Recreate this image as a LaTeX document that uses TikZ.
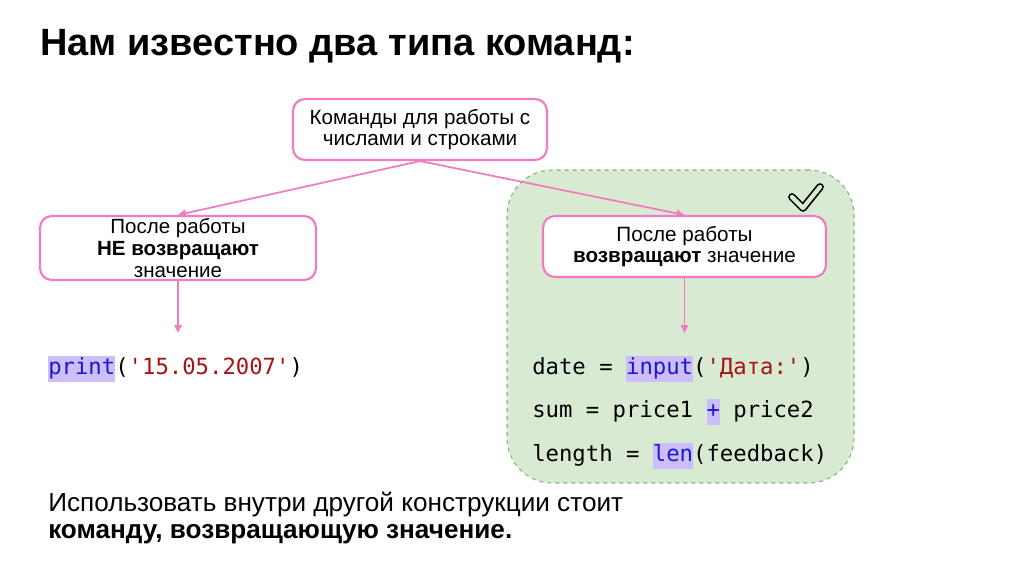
\documentclass[tikz,border=0pt]{standalone}
\usepackage{fontspec}
\setmainfont{Liberation Sans}
\newfontfamily\codefont{DejaVu Sans Mono}
\usetikzlibrary{arrows.meta}
\definecolor{pinkc}{HTML}{F07BC0}
\definecolor{greenfill}{HTML}{D9EAD3}
\definecolor{greenline}{HTML}{78B878}
\definecolor{hl}{HTML}{CDBDFB}
\definecolor{kw}{HTML}{1A1ACC}
\definecolor{str}{HTML}{A31515}
\tikzset{
  pbox/.style={draw=pinkc, line width=1.6pt, rounded corners=9pt, fill=white, align=center,
    font=\fontsize{15.5pt}{16pt}\selectfont, inner sep=0pt},
  parr/.style={draw=pinkc, line width=1.3pt, -{Triangle[length=6pt,width=5.5pt]}},
  code/.style={anchor=west, inner sep=0pt, font=\codefont\fontsize{16.7pt}{20pt}\selectfont},
}
\newcommand{\hlbox}[2]{\colorbox{hl}{\strut\textcolor{kw}{#2}}}
\begin{document}
\begin{tikzpicture}[x=0.75pt,y=-0.75pt]
\useasboundingbox (0,0) rectangle (1024,574);
\fill[white] (0,0) rectangle (1024,574);
% title
\node[anchor=west, inner sep=0pt, font=\bfseries\fontsize{28.5pt}{30pt}\selectfont] (title) at (40,46) {Нам известно два типа команд:};
% green region
\node[draw=greenline, dashed, line width=0.8pt, fill=greenfill, rounded corners=34pt,
  minimum width=347*0.75pt, minimum height=313*0.75pt, inner sep=0pt] (region) at (680.5,326.5) {};
% checkmark
\draw[line width=1.3pt, double=greenfill, double distance=3.2pt, line cap=round, line join=round]
  (792,197) coordinate (ck1) -- (803,208) coordinate (ck2) -- (820,187) coordinate (ck3);
% boxes
\node[pbox, minimum width=254*0.75pt, minimum height=61*0.75pt] (top) at (420,129.5) {Команды для работы с\\числами и строками};
\node[pbox, minimum width=276*0.75pt, minimum height=64*0.75pt, font=\fontsize{15.4pt}{16.5pt}\selectfont] (left) at (178,248) {После работы\\\textbf{НЕ возвращают}\\значение};
\node[pbox, minimum width=283*0.75pt, minimum height=61*0.75pt] (right) at (684.5,246.5) {После работы\\\textbf{возвращают} значение};
% arrows
\draw[parr] (top.south) -- (left.north);
\draw[parr] (top.south) -- (right.north);
\coordinate (lend) at (178,333);
\coordinate (rend) at (684.5,333);
\draw[parr] (left.south) -- (lend);
\draw[parr] (right.south) -- (rend);
% code
\setlength{\fboxsep}{0pt}
\node[code] (c0) at (48,369) {\hlbox{}{print}(\textcolor{str}{'15.05.2007'})};
\node[code] (c1) at (532,369) {date = \hlbox{}{input}(\textcolor{str}{'Дата:'})};
\node[code] (c2) at (532,412) {sum = price1 \hlbox{}{+} price2};
\node[code] (c3) at (532,456) {length = \hlbox{}{len}(feedback)};
% bottom text
\node[anchor=west, inner sep=0pt, align=left, font=\fontsize{19.6pt}{20.25pt}\selectfont] (note) at (48,518)
  {Использовать внутри другой конструкции стоит\\\textbf{команду, возвращающую значение.}};
\end{tikzpicture}
\end{document}
